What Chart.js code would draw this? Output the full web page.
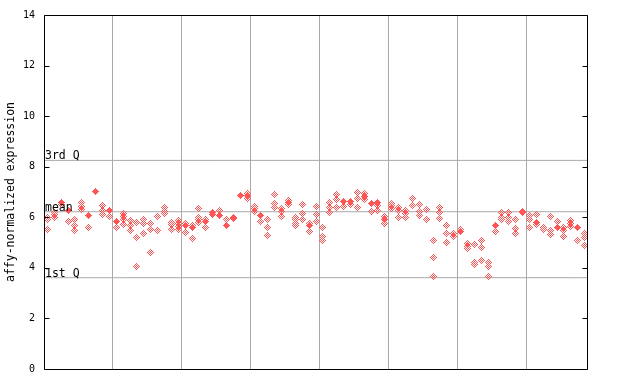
<!DOCTYPE html>
<html><head><meta charset="utf-8">
<script src="https://cdn.jsdelivr.net/npm/chart.js@4"></script>
<style>html,body{margin:0;padding:0;background:#fff}#wrap{width:640px;height:384px}</style>
</head><body>
<div id="wrap"><canvas id="c" width="640" height="384"></canvas></div>
<script>
// ---- data ----
const yTicks = [0, 2, 4, 6, 8, 10, 12, 14];
const xGrid = [10, 20, 30, 40, 50, 60, 70];
const sampleCount = 79;
const yTitle = 'affy-normalized expression';
const refNames = ['3rd Q', 'mean', '1st Q'];
const refValues = [8.25, 6.22, 3.61];
// hollow (checkered) replicate values per sample
const hollow = [
  [6.0,5.9,5.5],[6.2,6.1,6.0],[6.5],[5.85],[5.93,5.67,5.47],[6.57,6.44,6.31],[5.58],[],[6.46,6.28,6.1],[6.05],
  [5.58],[6.16,6.03,5.9,5.71],[5.88,5.67,5.48],[5.79,5.22,4.06],[5.9,5.77,5.35],[5.74,5.5,4.6],[6.03,5.49],[6.37,6.24,6.13],[5.8,5.71,5.5],[5.87,5.75,5.65,5.5],
  [5.76,5.41],[5.67,5.15],[6.33,5.99,5.9,5.8],[5.93,5.58],[],[6.26],[5.93],[],[],[6.94,6.76],
  [6.42,6.33,6.23],[5.83],[5.9,5.61,5.28],[6.92,6.55,6.37],[6.33,6.23,6.04],[6.68,6.5],[6.0,5.9,5.76,5.67],[6.5,6.16,5.93],[5.76,5.43],[6.42,6.1,5.83],
  [5.58,5.24,5.08],[6.59,6.37,6.2],[6.89,6.72,6.37],[6.43],[6.5],[6.98,6.76,6.39],[6.94,6.72],[6.24],[6.46,6.26],[6.03,5.74],
  [6.55,6.46,6.33],[6.37,6.26,6.0],[6.26,6.16,6.0],[6.76,6.46],[6.5,6.24,6.07],[6.29,5.93],[5.08,4.42,3.66],[6.37,6.2,5.97],[5.67,5.34,4.99],[5.34,5.25],
  [5.5],[4.97,4.84,4.75],[4.91,4.2,4.12],[5.1,4.79,4.29],[4.2,4.06,3.66],[5.45],[6.17,6.0,5.9],[6.17,6.0,5.84],[5.93,5.54,5.37],[],
  [6.07,5.9,5.58],[6.1,5.71],[5.61,5.5],[6.03,5.47,5.32],[5.84],[5.58,5.47,5.24],[5.87,5.76,5.63],[5.1],[5.37,5.19,4.88]
];
// solid replicate values per sample
const solid = [
  [],[],[6.6],[6.25],[],[],[6.07],[7.01],[],[6.27],
  [5.84],[],[],[],[],[],[],[],[],[],
  [5.67],[5.58],[],[5.84],[6.18,6.12],[6.07],[5.67],[6.0,5.95],[6.88],[6.85],
  [],[6.09],[],[],[],[6.59],[],[],[5.67],[],
  [],[],[],[6.63],[6.63],[],[6.81],[6.55],[6.59],[5.93],
  [],[],[],[],[],[],[],[],[],[],
  [5.45],[],[],[],[],[5.67],[],[],[],[6.22,6.18],
  [],[5.8],[],[],[5.58],[],[],[5.58],[]
];

// ---- styles ----
const RED = '#ff5555';
const GRID = '#aaaaaa';
const MONO = '"DejaVu Sans Mono", "Liberation Mono", monospace';

function diamond(isSolid) {
  const c = document.createElement('canvas');
  c.width = 7; c.height = 7;
  const g = c.getContext('2d');
  g.fillStyle = RED;
  for (let dy = -3; dy <= 3; dy++) for (let dx = -3; dx <= 3; dx++) {
    const d = Math.abs(dx) + Math.abs(dy);
    if (d <= 3 && (isSolid || (dx + dy) % 2 !== 0)) g.fillRect(dx + 3, dy + 3, 1, 1);
  }
  return c;
}

function toPoints(arr) {
  const pts = [];
  arr.forEach((vals, i) => vals.forEach(v => pts.push({x: i + 0.5, y: v})));
  return pts;
}

const refDatasets = refValues.map((v, k) => ({
  type: 'line', label: refNames[k],
  data: [{x: 0, y: v}, {x: sampleCount, y: v}],
  borderColor: GRID, borderWidth: 1, pointRadius: 0, order: 3
}));

const frame = {
  id: 'frame',
  beforeDatasetsDraw(chart) { chart.ctx.imageSmoothingEnabled = false; },
  afterDraw(chart) {
    const {ctx, chartArea: a, scales: {y}} = chart;
    ctx.save();
    ctx.strokeStyle = '#000'; ctx.lineWidth = 1;
    const L = Math.round(a.left) + 0.5, R = Math.round(a.right) - 0.5;
    const T = Math.round(a.top) + 0.5, B = Math.round(a.bottom) + 0.5;
    ctx.beginPath();
    ctx.rect(L, T, R - L, B - T);
    yTicks.forEach(v => {
      const py = Math.round(y.getPixelForValue(v)) + 0.5;
      ctx.moveTo(L, py); ctx.lineTo(L + 5, py);
      ctx.moveTo(R, py); ctx.lineTo(R - 5, py);
    });
    ctx.stroke();
    ctx.fillStyle = '#000';
    ctx.font = '11.5px ' + MONO;
    ctx.textAlign = 'left'; ctx.textBaseline = 'alphabetic';
    refValues.forEach((v, k) => {
      const py = Math.round(y.getPixelForValue(v));
      ctx.fillText(refNames[k], L + 0.5, py - 1);
    });
    ctx.restore();
  }
};

new Chart(document.getElementById('c'), {
  type: 'scatter',
  data: {
    datasets: [
      ...refDatasets,
      {label: 'hollow', data: toPoints(hollow), pointStyle: diamond(false), pointRadius: 3.5, pointHoverRadius: 3.5, order: 2},
      {label: 'solid', data: toPoints(solid), pointStyle: diamond(true), pointRadius: 3.5, pointHoverRadius: 3.5, order: 1}
    ]
  },
  options: {
    responsive: false, animation: false, devicePixelRatio: 1,
    layout: {padding: {left: 0, right: 52, top: 13, bottom: 15}},
    plugins: {legend: {display: false}, tooltip: {enabled: false}},
    events: [],
    scales: {
      x: {
        type: 'linear', min: 0, max: sampleCount,
        afterBuildTicks(s) { s.ticks = xGrid.map(v => ({value: v})); },
        afterFit(s) { s.height = 0; },
        ticks: {display: false},
        grid: {color: GRID, lineWidth: 1, drawTicks: false},
        border: {display: false}
      },
      y: {
        min: 0, max: 14,
        afterBuildTicks(s) { s.ticks = yTicks.map(v => ({value: v})); },
        afterFit(s) { s.width = 44; },
        ticks: {color: '#000', padding: 9, font: {family: MONO, size: 10}},
        grid: {display: false, drawTicks: false},
        border: {display: false},
        title: {display: true, text: yTitle, color: '#000', font: {family: MONO, size: 11.5}, padding: {top: 4, bottom: 0}}
      }
    }
  },
  plugins: [frame]
});
</script>
</body></html>
